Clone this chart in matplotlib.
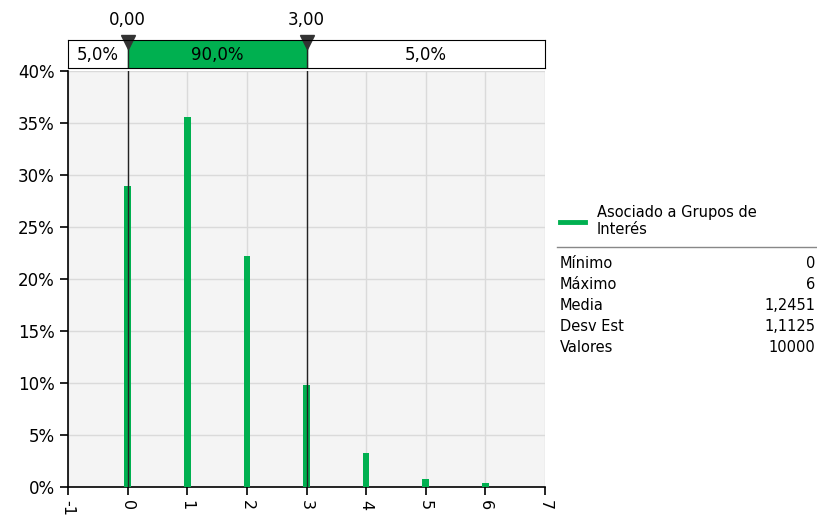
import numpy as np
import matplotlib.pyplot as plt

valores = [0, 1, 2, 3, 4, 5, 6]
porcentajes = [28.9, 35.6, 22.2, 9.8, 3.3, 0.8, 0.35]
limites = [0.0, 3.0]
etiquetas_banda = ['5,0%', '90,0%', '5,0%']
nombre_serie = 'Asociado a Grupos de\nInterés'
estadisticas = ['Mínimo', 'Máximo', 'Media', 'Desv Est', 'Valores']
valores_est = ['0', '6', '1,2451', '1,1125', '10000']

verde = '#00b050'
plt.rcParams['font.family'] = ['DejaVu Sans']

fig = plt.figure(figsize=(8.17, 5.18), dpi=100)

# grafico principal
ax = fig.add_axes([68/817, 1-487/518, 477/817, 416/518])
ax.set_facecolor('#f4f4f4')
ax.bar(valores, porcentajes, width=0.11, color=verde, zorder=3)
ax.set_xlim(-1, 7)
ax.set_ylim(0, 40)
ax.set_xticks(range(-1, 8))
ax.set_xticklabels([str(i) for i in range(-1, 8)], rotation=270, fontsize=11.5)
ax.set_yticks(range(0, 41, 5))
ax.set_yticklabels([f'{v}%' for v in range(0, 41, 5)], fontsize=12)
ax.grid(True, color='#dadada', linewidth=1, zorder=0)
for s in ['top', 'right']:
    ax.spines[s].set_visible(False)
ax.spines['left'].set_linewidth(1.2)
ax.spines['bottom'].set_linewidth(1.2)
ax.tick_params(length=6, width=1.2)
for l in limites:
    ax.axvline(l, color='#222222', linewidth=1, zorder=4)

# banda superior
bx = fig.add_axes([68/817, 1-68/518, 477/817, 28/518])
bx.set_xlim(-1, 7)
bx.set_ylim(0, 1)
bx.set_xticks([])
bx.set_yticks([])
bx.axvspan(limites[0], limites[1], color=verde)
for l in limites:
    bx.axvline(l, color='#222222', linewidth=1)
bx.text((-1 + limites[0]) / 2, 0.45, etiquetas_banda[0], ha='center', va='center', fontsize=12)
bx.text((limites[0] + limites[1]) / 2, 0.45, etiquetas_banda[1], ha='center', va='center', fontsize=12)
bx.text((limites[1] + 7) / 2, 0.45, etiquetas_banda[2], ha='center', va='center', fontsize=12)
for l in limites:
    bx.plot(l, 0.92, marker='v', markersize=10, color='#333333', clip_on=False)
    bx.text(l, 1.4, f'{l:.2f}'.replace('.', ','), ha='center', va='bottom', fontsize=12)

# leyenda y estadisticas
fig.lines.append(plt.Line2D([560/817, 585/817], [1-222/518, 1-222/518], color=verde, linewidth=3.5,
                            transform=fig.transFigure))
fig.text(597/817, 1-221/518, nombre_serie, ha='left', va='center', fontsize=10.5, linespacing=1.2)
fig.lines.append(plt.Line2D([557/817, 1], [1-247/518, 1-247/518], color='#888888', linewidth=1,
                            transform=fig.transFigure))
for i, (n, v) in enumerate(zip(estadisticas, valores_est)):
    y = 1 - (264 + i*20.8)/518
    fig.text(560/817, y, n, ha='left', va='center', fontsize=10.5)
    fig.text(815/817, y, v, ha='right', va='center', fontsize=10.5)

fig.savefig('out.png', dpi=100)
